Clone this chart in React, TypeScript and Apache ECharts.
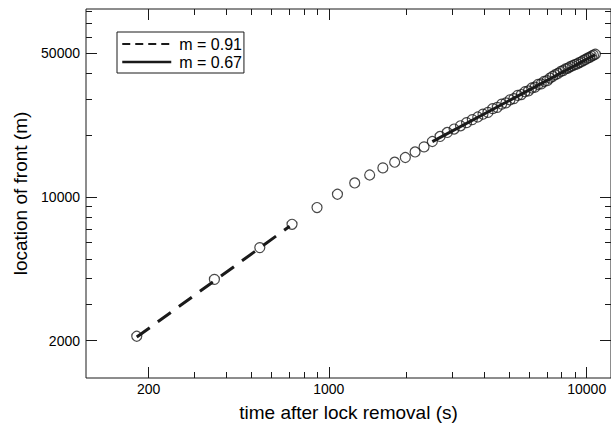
import React, { useEffect, useRef } from 'react';
import * as echarts from 'echarts';

// ---- data ----
const TIME_S = [
  180, 360, 540, 720, 900, 1080, 1260, 1440, 1620, 1800,
  1980, 2160, 2340, 2520, 2700, 2880, 3060, 3240, 3420, 3600,
  3780, 3960, 4140, 4320, 4500, 4680, 4860, 5040, 5220, 5400,
  5580, 5760, 5940, 6120, 6300, 6480, 6660, 6840, 7020, 7200,
  7380, 7560, 7740, 7920, 8100, 8280, 8460, 8640, 8820, 9000,
  9180, 9360, 9540, 9720, 9900, 10080, 10260, 10440, 10620, 10800,
];
const FRONT_M = [
  2100, 3970, 5670, 7360, 8880, 10310, 11700, 12790, 13850, 14760,
  15560, 16560, 17520, 18620, 19700, 20600, 21400, 22200, 23000, 23800,
  24500, 25300, 25800, 26900, 27300, 28300, 28700, 29700, 30100, 31200,
  31500, 32500, 32800, 33900, 34200, 35300, 35500, 36500, 36800, 37900,
  38600, 39400, 39900, 40800, 41200, 42000, 42400, 43100, 43600, 44100,
  44400, 45100, 45500, 46200, 46700, 47400, 47800, 48500, 49000, 49500,
];
const FIT_A_T = [180, 705];
const FIT_A_L = [2080, 7200];
const FIT_B_T = [2520, 10800];
const FIT_B_L = [18600, 49300];

const LEGEND_A = 'm = 0.91';
const LEGEND_B = 'm = 0.67';
const X_TITLE = 'time after lock removal (s)';
const Y_TITLE = 'location of front (m)';

const X_MAJOR = [200, 1000, 10000];
const X_MINOR = [300, 400, 500, 600, 700, 800, 900, 2000, 3000, 4000, 5000, 6000, 7000, 8000, 9000];
const Y_MAJOR = [2000, 10000, 50000];
const Y_MINOR = [3000, 4000, 5000, 6000, 7000, 8000, 9000, 20000, 30000, 40000, 60000, 70000, 80000];
const X_RANGE = [114.4, 12420];
const Y_RANGE = [1315, 82170];

const FONT = '"Liberation Sans", Arial, Helvetica, sans-serif';
const INK = '#1a1a1a';
const lg = (v: number) => Math.log10(v);
const fmt = (v: number) => String(Math.round(Math.pow(10, v)));

function axis(kind: 'x' | 'y', position: string, ticks: number[], len: number, extra: any = {}) {
  const range = kind === 'x' ? X_RANGE : Y_RANGE;
  return {
    type: 'value',
    position,
    gridIndex: 0,
    min: lg(range[0]),
    max: lg(range[1]),
    axisLine: { show: false, onZero: false },
    axisTick: {
      show: true,
      inside: true,
      length: len,
      customValues: ticks.map(lg),
      lineStyle: { color: INK, width: 1 },
    },
    axisLabel: { show: false },
    splitLine: { show: false },
    ...extra,
  };
}

export default function App() {
  const ref = useRef<HTMLDivElement>(null);
  useEffect(() => {
    if (!ref.current) return;
    const chart = echarts.init(ref.current, undefined, { renderer: 'svg' });
    const pts = TIME_S.map((t, i) => [lg(t), lg(FRONT_M[i])]);
    const fitA = FIT_A_T.map((t, i) => [lg(t), lg(FIT_A_L[i])]);
    const fitB = FIT_B_T.map((t, i) => [lg(t), lg(FIT_B_L[i])]);
    const labelStyle = { fontSize: 14, color: '#000', fontFamily: FONT };
    chart.setOption({
      animation: false,
      backgroundColor: '#fff',
      grid: {
        left: 86, top: 9, width: 526, height: 369,
        show: true, borderColor: INK, borderWidth: 1, backgroundColor: 'transparent',
      },
      xAxis: [
        axis('x', 'bottom', X_MAJOR, 11, {
          axisLabel: { show: true, customValues: X_MAJOR.map(lg), formatter: fmt, margin: 4, ...labelStyle },
          name: X_TITLE, nameLocation: 'middle', nameGap: 25,
          nameTextStyle: { fontSize: 19, color: '#000', fontFamily: FONT },
        }),
        axis('x', 'bottom', X_MINOR, 6),
        axis('x', 'top', X_MAJOR, 11),
        axis('x', 'top', X_MINOR, 6),
      ],
      yAxis: [
        axis('y', 'left', Y_MAJOR, 11, {
          axisLabel: { show: true, customValues: Y_MAJOR.map(lg), formatter: fmt, margin: 6, ...labelStyle },
          name: Y_TITLE, nameLocation: 'middle', nameGap: 54,
          nameTextStyle: { fontSize: 19, color: '#000', fontFamily: FONT },
        }),
        axis('y', 'left', Y_MINOR, 6),
        axis('y', 'right', Y_MAJOR, 11),
        axis('y', 'right', Y_MINOR, 6),
      ],
      legend: {
        orient: 'vertical', left: 117, top: 32,
        padding: [4, 2, 3, 4], itemGap: 2, itemWidth: 49, itemHeight: 14,
        borderColor: INK, borderWidth: 1, backgroundColor: '#fff',
        selectedMode: false,
        itemStyle: { opacity: 0 },
        textStyle: { fontSize: 16, color: '#000', fontFamily: FONT, padding: [0, 0, 0, 3] },
        data: [
          { name: LEGEND_A, lineStyle: { width: 2, type: [8, 5] } },
          { name: LEGEND_B, lineStyle: { width: 2.5 } },
        ],
      },
      series: [
        {
          type: 'scatter', name: 'data', data: pts, xAxisIndex: 0, yAxisIndex: 0,
          symbol: 'circle', symbolSize: 10, silent: true, z: 2,
          itemStyle: { color: 'rgba(0,0,0,0)', borderColor: INK, borderWidth: 1.2 },
        },
        {
          type: 'line', name: LEGEND_A, data: fitA, xAxisIndex: 0, yAxisIndex: 0,
          symbol: 'none', z: 3, silent: true,
          itemStyle: { color: INK },
          lineStyle: { color: INK, width: 3, type: [16, 10] },
        },
        {
          type: 'line', name: LEGEND_B, data: fitB, xAxisIndex: 0, yAxisIndex: 0,
          symbol: 'none', z: 3, silent: true,
          itemStyle: { color: INK },
          lineStyle: { color: INK, width: 3 },
        },
      ],
    });
    return () => chart.dispose();
  }, []);
  return (
    <div
      ref={ref}
      style={{ position: 'absolute', left: 0, top: 0, width: 611, height: 427 }}
    />
  );
}
